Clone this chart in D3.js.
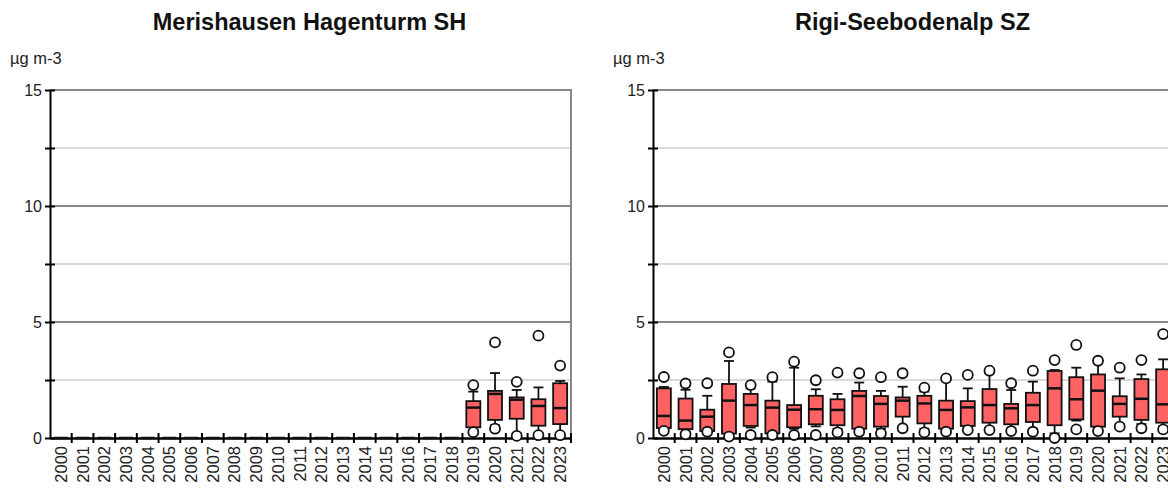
<!DOCTYPE html>
<html>
<head>
<meta charset="utf-8">
<script src="https://cdn.jsdelivr.net/npm/d3@7"></script>
<style>
  body { margin: 0; background: #fff; }
  svg { display: block; font-family: "Liberation Sans", Arial, sans-serif; }
</style>
</head>
<body>
<svg id="chart" width="1168" height="488"></svg>
<script>
// Annual distribution of concentrations (µg m-3) per station
const years = d3.range(2000, 2024).map(String);
const yTicks = [0, 5, 10, 15];
const yMinorTicks = [2.5, 7.5, 12.5];
const unitLabel = "µg m-3";

// Merishausen Hagenturm SH (measurements start 2019; earlier years flat at zero)
const mhTitle = "Merishausen Hagenturm SH";
const mhMin = [...Array(19).fill(null), 0.25, 0.40, 0.09, 0.12, 0.12];
const mhP10 = [...Array(19).fill(0),    0.35, 0.55, 0.20, 0.20, 0.20];
const mhQ1  = [...Array(19).fill(0),    0.46, 0.78, 0.83, 0.53, 0.60];
const mhMed = [...Array(19).fill(0),    1.31, 1.90, 1.65, 1.38, 1.29];
const mhQ3  = [...Array(19).fill(0),    1.59, 2.03, 1.75, 1.67, 2.36];
const mhP90 = [...Array(19).fill(0),    2.00, 2.80, 2.07, 2.18, 2.46];
const mhMax = [...Array(19).fill(null), 2.28, 4.12, 2.42, 4.41, 3.12];

// Rigi-Seebodenalp SZ
const rgTitle = "Rigi-Seebodenalp SZ";
const rgMin = [0.31, 0.16, 0.27, 0.06, 0.13, 0.13, 0.13, 0.13, 0.24, 0.27, 0.20, 0.42,
               0.24, 0.27, 0.34, 0.34, 0.30, 0.27, 0.00, 0.37, 0.30, 0.49, 0.42, 0.37];
const rgP10 = [0.36, 0.25, 0.28, 0.10, 0.45, 0.16, 0.40, 0.50, 0.40, 0.35, 0.40, 0.50,
               0.40, 0.35, 0.45, 0.45, 0.40, 0.40, 0.20, 0.75, 0.40, 0.60, 0.60, 0.50];
const rgQ1  = [0.43, 0.38, 0.30, 0.19, 0.52, 0.20, 0.46, 0.59, 0.55, 0.40, 0.49, 0.92,
               0.63, 0.40, 0.52, 0.66, 0.59, 0.69, 0.55, 0.80, 0.49, 0.92, 0.78, 0.66];
const rgMed = [0.95, 0.75, 0.92, 1.61, 1.42, 1.31, 1.22, 1.24, 1.21, 1.81, 1.47, 1.61,
               1.49, 1.21, 1.32, 1.42, 1.28, 1.42, 2.14, 1.67, 2.04, 1.47, 1.69, 1.45];
const rgQ3  = [2.14, 1.70, 1.22, 2.33, 1.90, 1.61, 1.42, 1.82, 1.67, 2.03, 1.81, 1.75,
               1.82, 1.61, 1.59, 2.11, 1.47, 1.95, 2.89, 2.62, 2.74, 1.80, 2.54, 2.96];
const rgP90 = [2.20, 2.08, 1.82, 3.32, 2.14, 2.43, 3.03, 2.10, 1.90, 2.39, 2.03, 2.21,
               2.00, 2.53, 2.14, 2.79, 2.07, 2.43, 2.93, 3.03, 3.22, 2.57, 2.74, 3.39];
const rgMax = [2.63, 2.35, 2.36, 3.69, 2.28, 2.62, 3.29, 2.49, 2.82, 2.79, 2.62, 2.79,
               2.17, 2.57, 2.72, 2.90, 2.36, 2.90, 3.36, 4.01, 3.33, 3.03, 3.36, 4.48];

const svg = d3.select("#chart");
const plotTop = 90, plotBottom = 438, plotWidth = 521;
const font = "Liberation Sans, Arial, sans-serif";

function rows(min, p10, q1, med, q3, p90, max) {
  return years.map((yr, i) => ({
    year: yr, min: min[i], p10: p10[i], q1: q1[i], med: med[i], q3: q3[i], p90: p90[i], max: max[i]
  }));
}

function panel(left, title, data) {
  const g = svg.append("g");
  const x = d3.scaleBand().domain(years).range([left, left + plotWidth]);
  const y = d3.scaleLinear().domain([0, 15]).range([plotBottom, plotTop]);
  const right = left + plotWidth;

  g.append("text")
    .attr("x", left + plotWidth / 2 - 1).attr("y", 30)
    .attr("text-anchor", "middle")
    .attr("font-size", 23.5).attr("font-weight", "bold").attr("fill", "#111")
    .text(title);

  g.append("text")
    .attr("x", left - 40).attr("y", 64)
    .attr("font-size", 16.5).attr("fill", "#222")
    .text(unitLabel);

  // grid
  g.selectAll("line.minor").data(yMinorTicks).join("line")
    .attr("x1", left).attr("x2", right)
    .attr("y1", d => y(d)).attr("y2", d => y(d))
    .attr("stroke", "#dadada").attr("stroke-width", 2);
  g.selectAll("line.major").data(yTicks.filter(d => d > 0)).join("line")
    .attr("x1", left).attr("x2", right)
    .attr("y1", d => y(d)).attr("y2", d => y(d))
    .attr("stroke", "#888").attr("stroke-width", 2);
  g.append("line")
    .attr("x1", right).attr("x2", right)
    .attr("y1", plotTop - 1).attr("y2", plotBottom)
    .attr("stroke", "#888").attr("stroke-width", 2);

  // y axis
  const yAxis = d3.axisLeft(y)
    .tickValues(yTicks.concat(yMinorTicks).sort((a, b) => a - b))
    .tickFormat(d => yTicks.includes(d) ? d3.format("d")(d) : "")
    .tickSizeInner(5).tickSizeOuter(0).tickPadding(5);
  const ya = g.append("g").attr("transform", `translate(${left},0)`).call(yAxis);
  ya.select(".domain").attr("stroke", "#000").attr("stroke-width", 2);
  ya.selectAll(".tick line").attr("x1", -5).attr("x2", 5).attr("stroke-width", 2);
  ya.selectAll(".tick text").attr("font-size", 16).attr("fill", "#222")
    .attr("font-family", font).attr("x", -8);

  // x axis
  const xa = g.append("g").attr("transform", `translate(0,${plotBottom})`)
    .call(d3.axisBottom(x).tickSize(0).tickPadding(8));
  xa.select(".domain").attr("stroke", "#000").attr("stroke-width", 2.5);
  xa.selectAll(".tick text")
    .attr("font-size", 16.5).attr("fill", "#222")
    .attr("font-family", font)
    .attr("transform", "rotate(-90)")
    .attr("text-anchor", "end")
    .attr("x", -8).attr("y", 0).attr("dy", "0.36em");
  const bounds = years.slice(1).map(yr => x(yr)).concat([right]);
  g.selectAll("line.xt").data(bounds).join("line")
    .attr("x1", d => d).attr("x2", d => d)
    .attr("y1", plotBottom - 5).attr("y2", plotBottom + 5)
    .attr("stroke", "#000").attr("stroke-width", 2);

  // boxes
  const bw = 14;
  const ink = "#111";
  const boxes = g.selectAll("g.box").data(data).join("g")
    .attr("transform", d => `translate(${x(d.year) + x.bandwidth() / 2},0)`);
  boxes.append("line")
    .attr("y1", d => y(d.p90)).attr("y2", d => y(d.q3))
    .attr("stroke", ink).attr("stroke-width", 1.8);
  boxes.append("line")
    .attr("y1", d => y(d.p10)).attr("y2", d => y(d.q1))
    .attr("stroke", ink).attr("stroke-width", 1.8);
  boxes.append("line")
    .attr("x1", -5).attr("x2", 5)
    .attr("y1", d => y(d.p90)).attr("y2", d => y(d.p90))
    .attr("stroke", ink).attr("stroke-width", 1.8);
  boxes.append("line")
    .attr("x1", -5).attr("x2", 5)
    .attr("y1", d => y(d.p10)).attr("y2", d => y(d.p10))
    .attr("stroke", ink).attr("stroke-width", 1.8);
  boxes.append("rect")
    .attr("x", -bw / 2).attr("width", bw)
    .attr("y", d => y(d.q3)).attr("height", d => y(d.q1) - y(d.q3))
    .attr("fill", "#ff6262").attr("stroke", ink).attr("stroke-width", 1.8);
  boxes.append("line")
    .attr("x1", -bw / 2).attr("x2", bw / 2)
    .attr("y1", d => y(d.med)).attr("y2", d => y(d.med))
    .attr("stroke", ink).attr("stroke-width", 2.5);
  boxes.filter(d => d.max != null).append("circle")
    .attr("cy", d => y(d.max)).attr("r", 5)
    .attr("fill", "#fff").attr("stroke", ink).attr("stroke-width", 1.8);
  boxes.filter(d => d.min != null).append("circle")
    .attr("cy", d => y(d.min)).attr("r", 5)
    .attr("fill", "#fff").attr("stroke", ink).attr("stroke-width", 1.8);
}

panel(50, mhTitle, rows(mhMin, mhP10, mhQ1, mhMed, mhQ3, mhP90, mhMax));
panel(653, rgTitle, rows(rgMin, rgP10, rgQ1, rgMed, rgQ3, rgP90, rgMax));
</script>
</body>
</html>
